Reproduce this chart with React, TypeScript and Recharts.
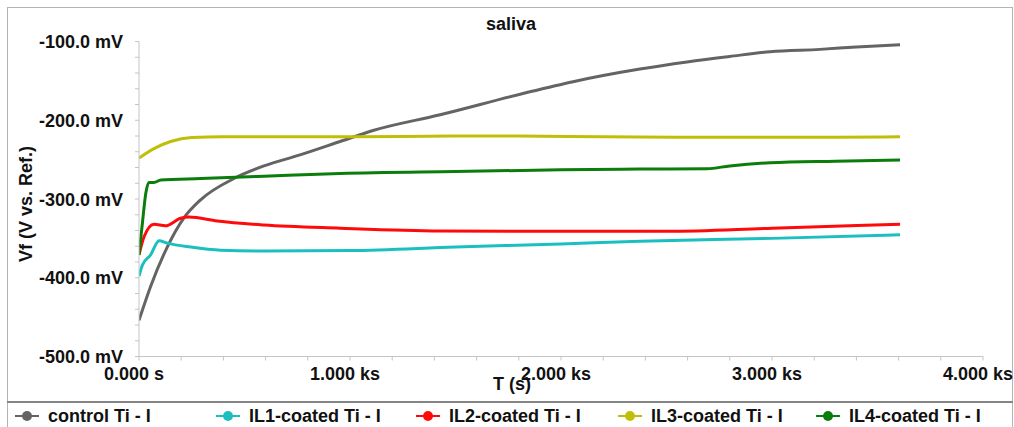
import React from 'react';
import { LineChart, Line, XAxis, YAxis } from 'recharts';

// ---- data (time in s, potential in mV) ----
const controlT = [0, 55, 134, 213, 292, 450, 592, 763, 953, 1109, 1427, 1820, 2057, 2374, 2597, 2800, 2991, 3227, 3400, 3607];
const controlV = [-454, -411, -361, -324, -301, -274, -258, -244, -227, -213, -193, -166, -151, -135, -126, -119, -113, -110, -107, -104];

const il1T = [0, 16, 55, 95, 134, 245, 387, 592, 1000, 1500, 2000, 2374, 3000, 3607];
const il1V = [-398, -384, -371, -353, -356, -361, -365, -366, -365.5, -361, -357, -353.5, -350, -345.5];

const il2T = [0, 24, 71, 126, 197, 237, 371, 592, 953, 1427, 2000, 2500, 3000, 3607];
const il2V = [-371, -348, -332, -334, -324.5, -323, -328, -333, -337, -340.5, -341, -341, -337, -332];

const il3T = [0, 71, 150, 250, 400, 1000, 1500, 1800, 2200, 2700, 3300, 3607];
const il3V = [-248, -236, -227, -222, -221, -221, -220, -220, -221, -221.5, -221.5, -221];

const il4T = [0, 16, 32, 47, 71, 103, 292, 592, 953, 1500, 2000, 2374, 2692, 2800, 2991, 3300, 3607];
const il4V = [-371, -331, -293, -279, -279, -276, -274, -271, -267.5, -265, -263, -262, -261.5, -258, -254, -252, -250.5];

const seriesNames = ['control Ti - I', 'IL1-coated Ti - I', 'IL2-coated Ti - I', 'IL3-coated Ti - I', 'IL4-coated Ti - I'];
const seriesColors = ['#646464', '#1cbfbf', '#ff0a0a', '#bfbf0a', '#0a7d0a'];
const seriesT = [controlT, il1T, il2T, il3T, il4T];
const seriesV = [controlV, il1V, il2V, il3V, il4V];

const xTicks = [0, 200, 400, 600, 800, 1000, 1200, 1400, 1600, 1800, 2000, 2200, 2400, 2600, 2800, 3000, 3200, 3400, 3600, 3800, 4000];
const yTicks = [-500, -480, -460, -440, -420, -400, -380, -360, -340, -320, -300, -280, -260, -240, -220, -200, -180, -160, -140, -120, -100];

const FONT = '"Liberation Sans", Arial, sans-serif';
const FS = 18;

const fmtX = (v: number) => (v === 0 ? '0.000 s' : `${(v / 1000).toFixed(3)} ks`);
const fmtY = (v: number) => `${v.toFixed(1)} mV`;

const XTick = (props: any) => {
  const { x, y, payload } = props;
  if (payload.value % 1000 !== 0) return <g />;
  return (
    <text x={x - 5} y={y} dy={17} textAnchor="middle" fontFamily={FONT} fontWeight="bold" fontSize={FS} fill="#111">
      {fmtX(payload.value)}
    </text>
  );
};

const YTick = (props: any) => {
  const { x, y, payload } = props;
  if (payload.value % 100 !== 0) return <g />;
  return (
    <text x={x} y={y} dy={6.5} textAnchor="end" fontFamily={FONT} fontWeight="bold" fontSize={FS} fill="#111">
      {fmtY(payload.value)}
    </text>
  );
};

const textStyle: React.CSSProperties = {
  position: 'absolute',
  fontFamily: FONT,
  fontWeight: 'bold',
  fontSize: FS,
  color: '#111',
  whiteSpace: 'nowrap',
  lineHeight: '20px',
};

const legendDotX = [27, 228, 428, 630, 828];

export default function App() {
  return (
    <div style={{ position: 'absolute', left: 0, top: 0, width: 1014, height: 427, overflow: 'hidden', background: '#fff' }}>
      {/* outer frame */}
      <div style={{ position: 'absolute', left: 7, top: 7, width: 1006, height: 430, border: '1px solid #b4b4b4', boxSizing: 'border-box' }} />
      {/* separator above legend */}
      <div style={{ position: 'absolute', left: 7, top: 400.5, width: 1006, height: 2, background: '#858585' }} />
      <div style={{ position: 'absolute', left: 0, top: 0 }}>
        <LineChart width={1014} height={427} margin={{ top: 41.5, right: 31, bottom: 40.5, left: 39 }}>
          <XAxis
            type="number"
            dataKey="t"
            domain={[0, 4000]}
            ticks={xTicks}
            interval={0}
            height={30}
            tickSize={4}
            tickMargin={2}
            axisLine={{ stroke: '#c4c4c4' }}
            tickLine={{ stroke: '#c4c4c4' }}
            tick={<XTick />}
            allowDataOverflow
          />
          <YAxis
            type="number"
            dataKey="v"
            domain={[-500, -100]}
            ticks={yTicks}
            interval={0}
            width={100}
            tickSize={4}
            tickMargin={12}
            axisLine={{ stroke: '#c4c4c4' }}
            tickLine={{ stroke: '#c4c4c4' }}
            tick={<YTick />}
            allowDataOverflow
          />
          {seriesNames.map((name, i) => (
            <Line
              key={name}
              name={name}
              data={seriesT[i].map((t, k) => ({ t, v: seriesV[i][k] }))}
              dataKey="v"
              type="monotone"
              stroke={seriesColors[i]}
              strokeWidth={3}
              dot={false}
              activeDot={false}
              isAnimationActive={false}
            />
          ))}
        </LineChart>
      </div>
      {/* title */}
      <div style={{ ...textStyle, left: 511, top: 14, transform: 'translateX(-50%)' }}>saliva</div>
      {/* x axis title */}
      <div style={{ ...textStyle, left: 512, top: 374, transform: 'translateX(-50%)' }}>T (s)</div>
      {/* y axis title */}
      <div style={{ ...textStyle, left: 26, top: 204, transform: 'translate(-50%, -50%) rotate(-90deg)' }}>Vf (V vs. Ref.)</div>
      {/* legend */}
      {seriesNames.map((name, i) => (
        <React.Fragment key={name}>
          <svg style={{ position: 'absolute', left: legendDotX[i] - 13, top: 408 }} width={26} height={16}>
            <line x1={1} y1={8} x2={25} y2={8} stroke={seriesColors[i]} strokeWidth={2} />
            <circle cx={13} cy={8} r={5} fill={seriesColors[i]} />
          </svg>
          <div style={{ ...textStyle, left: legendDotX[i] + 21, top: 405.5 }}>{name}</div>
        </React.Fragment>
      ))}
    </div>
  );
}
